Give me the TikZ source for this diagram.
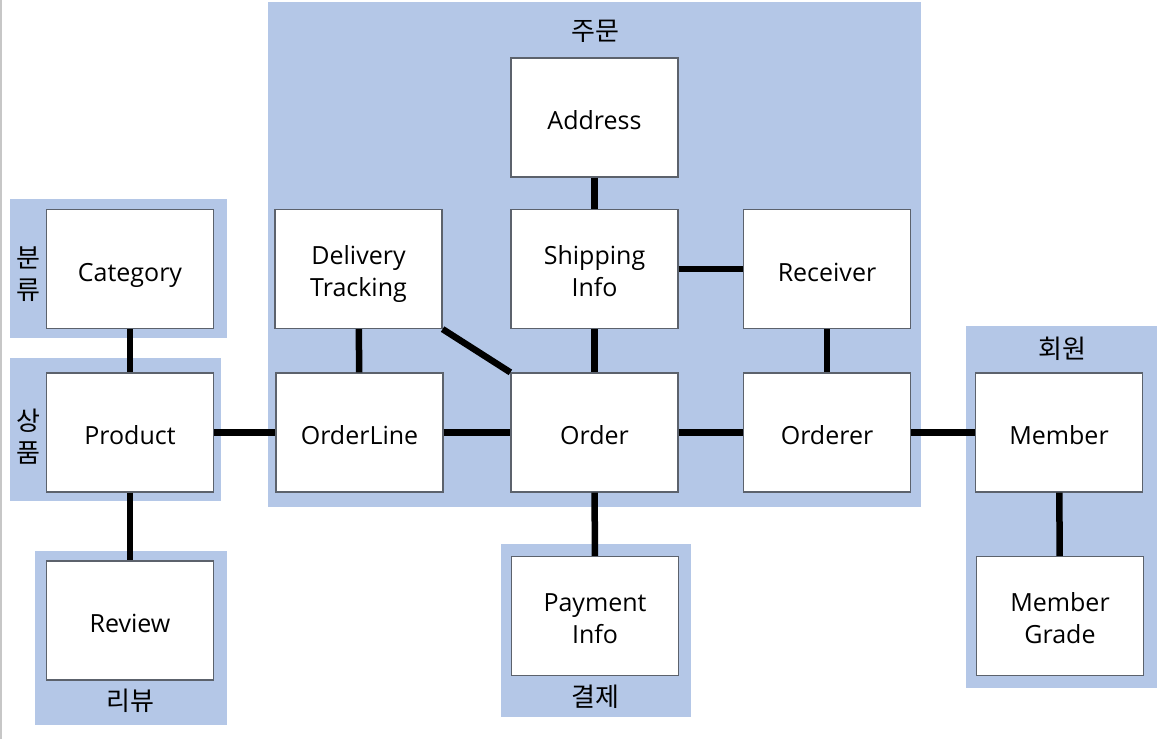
\documentclass[tikz,border=0pt]{standalone}
\usepackage{fontspec}
\setmainfont{Open Sans}
\newfontfamily\kofont{Noto Sans CJK KR}
\usetikzlibrary{positioning}

\definecolor{grpblue}{RGB}{180,199,231}
\definecolor{boxline}{RGB}{92,98,108}

\tikzset{
  entity/.style={rectangle, draw=boxline, line width=1.2pt, fill=white,
    minimum width=167pt, minimum height=119pt, inner sep=0pt, align=center,
    font=\fontsize{25pt}{32pt}\selectfont, text height=24pt, text depth=0pt},
  entitytwo/.style={entity, text height=54pt, text depth=0pt},
  grplabel/.style={inner sep=0pt, align=center,
    font=\kofont\fontsize{26pt}{32pt}\selectfont},
  link/.style={line width=6.5pt, black}
}

\begin{document}
\begin{tikzpicture}[x=1pt, y=-1pt]
\useasboundingbox (0,0) rectangle (1175,739);
\draw[black!22, line width=1.2pt] (1,0) -- (1,739);
% groups
\fill[grpblue] (10,199) rectangle (227,338);
\fill[grpblue] (10,358) rectangle (221,501);
\fill[grpblue] (35,551) rectangle (227,725);
\fill[grpblue] (268,2) rectangle (921,507);
\fill[grpblue] (501,544) rectangle (691,717);
\fill[grpblue] (966,326) rectangle (1157,688);
\node[grplabel] (lblcat) at (28,274) {분\\류};
\node[grplabel] (lblprod) at (28,437) {상\\품};
\node[grplabel] (lblrev) at (130,701) {리뷰};
\node[grplabel] (lblord) at (595,31) {주문};
\node[grplabel] (lblpay) at (595,697) {결제};
\node[grplabel] (lblmem) at (1062,349) {회원};
% entities
\node[entity] (cat) at (130,269) {Category};
\node[entity] (prod) at (130,432.5) {Product};
\node[entity] (rev) at (130,620.5) {Review};
\node[entity] (addr) at (594.5,117.5) {Address};
\node[entitytwo] (dt) at (358.5,269) {Delivery\\Tracking};
\node[entitytwo] (ship) at (594.5,269) {Shipping\\Info};
\node[entity] (recv) at (827,269) {Receiver};
\node[entity] (ol) at (359.5,432.5) {OrderLine};
\node[entity] (ord) at (594.5,432.5) {Order};
\node[entity] (orderer) at (827,432.5) {Orderer};
\node[entitytwo] (pay) at (595,616) {Payment\\Info};
\node[entity] (mem) at (1059,432.5) {Member};
\node[entitytwo] (grade) at (1060,616) {Member\\Grade};
% links
\draw[link] (cat) -- (prod);
\draw[link] (prod) -- (rev);
\draw[link] (prod) -- (ol);
\draw[link] (ol) -- (ord);
\draw[link] (ord) -- (orderer);
\draw[link] (orderer) -- (mem);
\draw[link] (mem) -- (grade);
\draw[link] (dt) -- (ol);
\draw[link] (dt.south east) -- (ord.north west);
\draw[link] (addr) -- (ship);
\draw[link] (ship) -- (ord);
\draw[link] (ship) -- (recv);
\draw[link] (recv) -- (orderer);
\draw[link] (ord) -- (pay);
\end{tikzpicture}
\end{document}
